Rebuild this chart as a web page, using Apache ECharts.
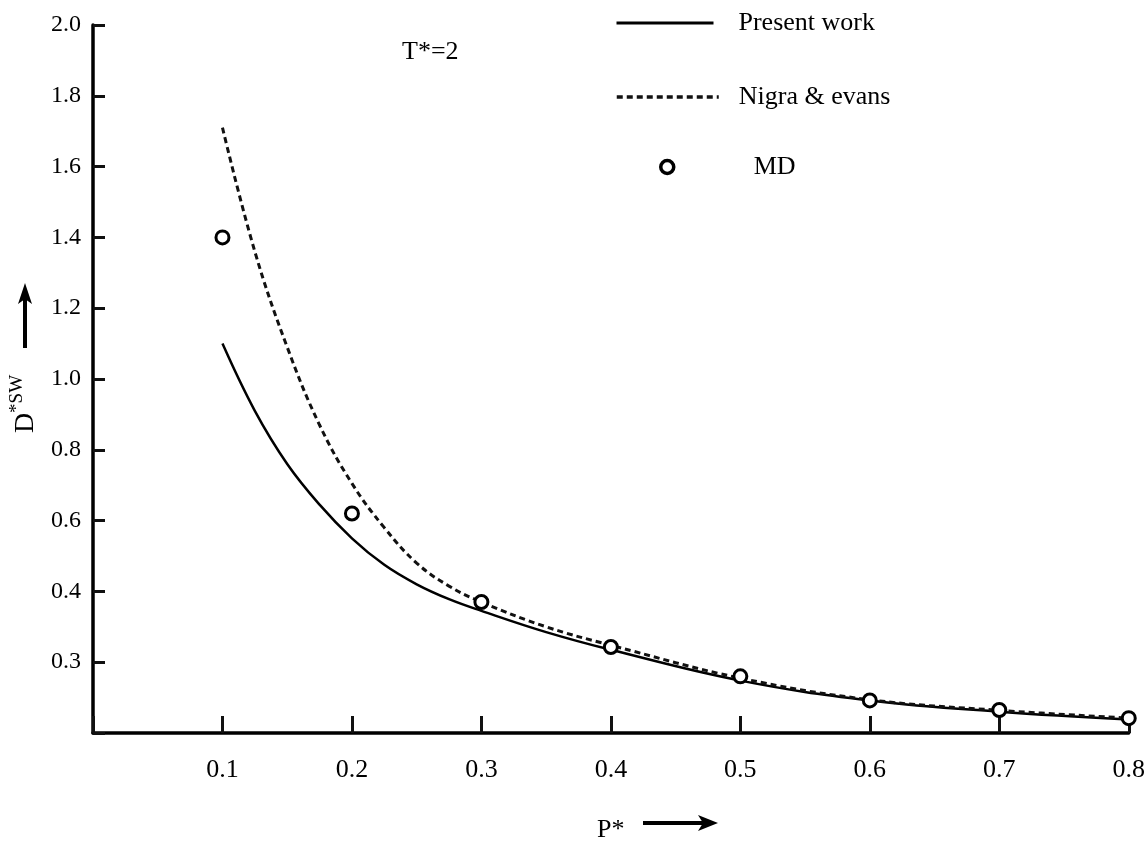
<!DOCTYPE html>
<html><head><meta charset="utf-8">
<script src="https://cdn.jsdelivr.net/npm/echarts@6/dist/echarts.min.js"></script>
<style>html,body{margin:0;padding:0;background:#fff}#c{width:1148px;height:843px}</style>
</head><body><div id="c"></div>
<script>
// P* values and D*sw values
const presentP = [0.1, 0.125, 0.15, 0.175, 0.2, 0.225, 0.25, 0.275, 0.3, 0.35, 0.4, 0.5, 0.6, 0.7, 0.8];
const presentD = [1.10, 0.91, 0.76, 0.645, 0.55, 0.475, 0.42, 0.378, 0.345, 0.285, 0.235, 0.148, 0.092, 0.060, 0.038];
const nigraP = [0.1, 0.125, 0.15, 0.175, 0.2, 0.225, 0.25, 0.275, 0.3, 0.35, 0.4, 0.5, 0.6, 0.7, 0.8];
const nigraD = [1.71, 1.36, 1.09, 0.87, 0.705, 0.58, 0.48, 0.415, 0.37, 0.30, 0.248, 0.155, 0.094, 0.064, 0.042];
const mdP = [0.1, 0.2, 0.3, 0.4, 0.5, 0.6, 0.7, 0.8];
const mdD = [1.40, 0.62, 0.37, 0.243, 0.16, 0.092, 0.065, 0.042];
const yTickValues = [0.2, 0.4, 0.6, 0.8, 1.0, 1.2, 1.4, 1.6, 1.8, 2.0];
const yTickLabels = ['0.3', '0.4', '0.6', '0.8', '1.0', '1.2', '1.4', '1.6', '1.8', '2.0'];
const xTickLabels = ['0.1', '0.2', '0.3', '0.4', '0.5', '0.6', '0.7', '0.8'];
const seriesNames = ['Present work', 'Nigra & evans', 'MD'];

const FONT = 'Liberation Serif';
const zip = (a, b) => a.map((v, i) => [v, b[i]]);

const chart = echarts.init(document.getElementById('c'));
chart.setOption({
  backgroundColor: '#fff',
  animation: false,
  title: {
    text: 'T*=2', left: 397, top: 34,
    textStyle: { fontFamily: FONT, fontSize: 26, fontWeight: 'normal', color: '#000' }
  },
  legend: [
    { data: [seriesNames[0]], left: 615, top: 10, padding: 0, itemWidth: 97, itemHeight: 14,
      itemStyle: { opacity: 0 }, lineStyle: { width: 3 },
      textStyle: { fontFamily: FONT, fontSize: 26, color: '#000', padding: [0, 0, 0, 20] } },
    { data: [seriesNames[1]], left: 615, top: 84, padding: 0, itemWidth: 102, itemHeight: 14,
      itemStyle: { opacity: 0 }, lineStyle: { width: 3.5 },
      textStyle: { fontFamily: FONT, fontSize: 26, color: '#000', padding: [0, 0, 0, 15] } },
    { data: [seriesNames[2]], left: 659, top: 154, padding: 0, itemWidth: 13, itemHeight: 17,
      itemStyle: { borderWidth: 3.5, borderColor: '#000', color: '#fff' },
      textStyle: { fontFamily: FONT, fontSize: 26, color: '#000', padding: [6, 0, 0, 75] } }
  ],
  grid: { left: 93, right: 13, top: 25, bottom: 110, containLabel: false },
  xAxis: {
    type: 'value', min: 0, max: 0.8, interval: 0.1,
    splitLine: { show: false },
    axisLine: { lineStyle: { color: '#000', width: 3.5 } },
    axisTick: { inside: true, length: 17, lineStyle: { color: '#111', width: 3 } },
    axisLabel: {
      margin: 24, fontFamily: FONT, fontSize: 26, color: '#000',
      formatter: v => { const i = Math.round(v * 10) - 1; return (i >= 0 && i < xTickLabels.length) ? xTickLabels[i] : ''; }
    }
  },
  yAxis: {
    type: 'value', min: 0, max: 2.0, interval: 0.2,
    splitLine: { show: false },
    axisLine: { lineStyle: { color: '#000', width: 3.5 } },
    axisTick: { inside: true, length: 12, lineStyle: { color: '#111', width: 3 } },
    axisLabel: {
      margin: 12, fontFamily: FONT, fontSize: 24, color: '#000',
      formatter: v => {
        const i = yTickValues.findIndex(t => Math.abs(t - v) < 1e-6);
        return i >= 0 ? yTickLabels[i] : '';
      }
    }
  },
  series: [
    { name: seriesNames[0], type: 'line', smooth: 0.4, symbol: 'none',
      data: zip(presentP, presentD),
      lineStyle: { color: '#000', width: 2.5 }, itemStyle: { color: '#000' }, z: 2 },
    { name: seriesNames[1], type: 'line', smooth: 0.4, symbol: 'none',
      data: zip(nigraP, nigraD),
      lineStyle: { color: '#111', width: 3, type: [6, 4] }, itemStyle: { color: '#111' }, z: 3 },
    { name: seriesNames[2], type: 'scatter', symbol: 'circle', symbolSize: 13,
      data: zip(mdP, mdD),
      itemStyle: { color: '#fff', borderColor: '#000', borderWidth: 3, opacity: 1 }, z: 5 }
  ],
  graphic: [
    { type: 'text', x: 24, y: 404, rotation: Math.PI / 2,
      style: { text: '{d|D}{s|*SW}', align: 'center', verticalAlign: 'middle', fill: '#000',
        rich: {
          d: { fontFamily: FONT, fontSize: 28, lineHeight: 32, verticalAlign: 'bottom', fill: '#000' },
          s: { fontFamily: FONT, fontSize: 19, lineHeight: 20, verticalAlign: 'top', fill: '#000' }
        } } },
    { type: 'polyline', shape: { points: [[25, 348], [25, 298]] }, style: { stroke: '#000', lineWidth: 4 } },
    { type: 'polygon', shape: { points: [[18, 304], [25, 283], [32, 304], [25, 299]] }, style: { fill: '#000' } },
    { type: 'text', x: 597, y: 830,
      style: { text: 'P*', fontFamily: FONT, fontSize: 26, fill: '#000', align: 'left', verticalAlign: 'middle' } },
    { type: 'polyline', shape: { points: [[643, 823], [703, 823]] }, style: { stroke: '#000', lineWidth: 4 } },
    { type: 'polygon', shape: { points: [[698, 815], [718, 823], [698, 831], [703, 823]] }, style: { fill: '#000' } }
  ]
});
</script>
</body></html>
